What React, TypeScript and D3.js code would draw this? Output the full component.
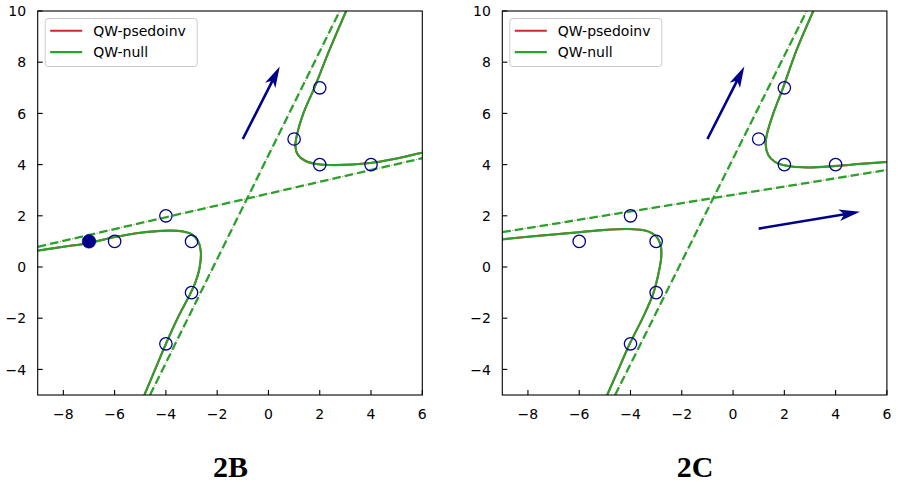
import React from "react";
import * as d3 from "d3";

type P = [number, number];

const xTicks = [-8, -6, -4, -2, 0, 2, 4, 6];
const yTicks = [-4, -2, 0, 2, 4, 6, 8, 10];
const xDomain: P = [-9, 6];
const yDomain: P = [-5, 10];

const legendLabels = ["QW-psedoinv", "QW-null"];
const titles = ["2B", "2C"];

// panel 2B
const openPointsB: P[] = [[-6, 1], [-4, 2], [-3, 1], [-3, -1], [-4, -3], [1, 5], [2, 7], [2, 4], [4, 4]];
const filledPointsB: P[] = [[-7, 1]];
const upperB: P[] = [[3.03, 10], [2.38, 8.48], [1.79, 7.0], [1.36, 6.0], [1.12, 5.2], [1.05, 4.7], [1.15, 4.38], [1.43, 4.15], [1.88, 4.02], [2.6, 3.98], [3.97, 4.06], [5.0, 4.24], [5.98, 4.46]];
const lowerB: P[] = [[-9, 0.64], [-8, 0.79], [-7, 0.94], [-6, 1.17], [-5, 1.34], [-4, 1.42], [-3.4, 1.4], [-3.0, 1.28], [-2.75, 1.02], [-2.64, 0.62], [-2.68, 0.0], [-2.85, -0.6], [-3.05, -1.05], [-3.52, -1.95], [-3.99, -2.98], [-4.42, -4.0], [-4.84, -5.0]];
const asymptotesB: P[][] = [[[-9, 0.79], [6, 4.25]], [[-4.62, -5], [2.78, 10]]];
const arrowsB: P[][] = [[[-1, 5], [0.44, 7.83]]];

// panel 2C
const openPointsC: P[] = [[-6, 1], [-4, 2], [-3, 1], [-3, -1], [-4, -3], [1, 5], [2, 7], [2, 4], [4, 4]];
const filledPointsC: P[] = [];
const upperC: P[] = [[3.13, 10], [2.48, 8.48], [1.95, 7.0], [1.57, 6.0], [1.33, 5.22], [1.27, 4.8], [1.37, 4.38], [1.63, 4.11], [2.02, 3.97], [2.87, 3.89], [4.01, 3.95], [5.0, 4.03], [5.99, 4.1]];
const lowerC: P[] = [[-9, 1.08], [-8, 1.18], [-7, 1.27], [-6, 1.36], [-5, 1.45], [-4, 1.48], [-3.4, 1.42], [-3.0, 1.2], [-2.82, 0.82], [-2.8, 0.4], [-2.88, -0.12], [-3.1, -1.0], [-3.5, -1.94], [-4.02, -2.98], [-4.47, -4.0], [-4.91, -5]];
const asymptotesC: P[][] = [[[-9, 1.36], [6, 3.79]], [[-4.6, -5], [2.87, 10]]];
const arrowsC: P[][] = [[[-1, 5], [0.44, 7.83]], [[1, 1.5], [4.95, 2.16]]];

const RED = "#d62728";
const GREEN = "#2ca02c";
const NAVY = "#00008b";
const FONT = "'DejaVu Sans', sans-serif";

const DASH = 8.6;
const GAP = 4.0;
const RDOT = 1.1;

interface PanelProps {
  left: number;
  id: string;
  title: string;
  curves: P[][];
  asymptotes: P[][];
  openPts: P[];
  filledPts: P[];
  arrows: P[][];
}

function arrowPath(p0: P, p1: P): string {
  const dx = p1[0] - p0[0];
  const dy = p1[1] - p0[1];
  const len = Math.hypot(dx, dy);
  const d = [dx / len, dy / len];
  const n = [-d[1], d[0]];
  const w = 1.3, L = 21, H = 5.8, o = 4;
  const b = [p1[0] - d[0] * (L - o), p1[1] - d[1] * (L - o)];
  const h = [p1[0] - d[0] * L, p1[1] - d[1] * L];
  const pts = [
    [p0[0] + n[0] * w, p0[1] + n[1] * w],
    [b[0] + n[0] * w, b[1] + n[1] * w],
    [h[0] + n[0] * H, h[1] + n[1] * H],
    [p1[0], p1[1]],
    [h[0] - n[0] * H, h[1] - n[1] * H],
    [b[0] - n[0] * w, b[1] - n[1] * w],
    [p0[0] - n[0] * w, p0[1] - n[1] * w],
  ];
  return "M" + pts.map((p) => p[0].toFixed(2) + "," + p[1].toFixed(2)).join("L") + "Z";
}

function Panel({ left, id, title, curves, asymptotes, openPts, filledPts, arrows }: PanelProps) {
  const top = 11;
  const size = 384.6;
  const bottom = top + 384;
  const x = d3.scaleLinear().domain(xDomain).range([left, left + size]);
  const y = d3.scaleLinear().domain(yDomain).range([bottom, top]);
  const smooth = d3
    .line<P>()
    .x((d) => x(d[0]))
    .y((d) => y(d[1]))
    .curve(d3.curveCatmullRom.alpha(0.5));
  const straight = d3
    .line<P>()
    .x((d) => x(d[0]))
    .y((d) => y(d[1]));
  const clip = "clip-" + id;
  const lx = left + 7.5;
  const ly = top + 7.5;
  return (
    <g>
      <defs>
        <clipPath id={clip}>
          <rect x={left} y={top} width={size} height={bottom - top} />
        </clipPath>
      </defs>
      <g clipPath={`url(#${clip})`}>
        {asymptotes.map((a, i) => (
          <g key={"a" + i}>
            <path
              d={straight(a) || ""}
              fill="none"
              stroke={RED}
              strokeOpacity={0.7}
              strokeWidth={1.0}
              strokeDasharray={`${RDOT} ${DASH + GAP - RDOT}`}
              strokeDashoffset={-(DASH + (GAP - RDOT) / 2)}
            />
            <path d={straight(a) || ""} fill="none" stroke={GREEN} strokeWidth={2.3} strokeDasharray={`${DASH} ${GAP}`} />
          </g>
        ))}
        {curves.map((c, i) => (
          <path key={"r" + i} d={smooth(c) || ""} fill="none" stroke={RED} strokeWidth={2} />
        ))}
        {curves.map((c, i) => (
          <path key={"g" + i} d={smooth(c) || ""} fill="none" stroke={GREEN} strokeWidth={2.1} />
        ))}
        {openPts.map((p, i) => (
          <circle key={"o" + i} cx={x(p[0])} cy={y(p[1])} r={6.2} fill="none" stroke={NAVY} strokeWidth={1.3} />
        ))}
        {filledPts.map((p, i) => (
          <circle key={"f" + i} cx={x(p[0])} cy={y(p[1])} r={6.8} fill={NAVY} stroke={NAVY} strokeWidth={0.5} />
        ))}
        {arrows.map((a, i) => (
          <path key={"ar" + i} d={arrowPath([x(a[0][0]), y(a[0][1])], [x(a[1][0]), y(a[1][1])])} fill={NAVY} />
        ))}
      </g>
      <rect x={left} y={top} width={size} height={bottom - top} fill="none" stroke="#000" strokeWidth={1.1} />
      {xTicks.map((t) => (
        <g key={"xt" + t}>
          <line x1={x(t)} x2={x(t)} y1={bottom} y2={bottom - 5} stroke="#000" strokeWidth={1.1} />
          <text x={x(t)} y={418.5} textAnchor="middle" fontFamily={FONT} fontSize={14} fill="#000">
            {t < 0 ? "\u2212" + Math.abs(t) : String(t)}
          </text>
        </g>
      ))}
      {yTicks.map((t) => (
        <g key={"yt" + t}>
          <line x1={left} x2={left + 5} y1={y(t)} y2={y(t)} stroke="#000" strokeWidth={1.1} />
          <text x={left - 11.5} y={y(t) + 5.1} textAnchor="end" fontFamily={FONT} fontSize={14} fill="#000">
            {t < 0 ? "\u2212" + Math.abs(t) : String(t)}
          </text>
        </g>
      ))}
      <rect x={lx} y={ly} width={152} height={48} rx={3} ry={3} fill="#fff" fillOpacity={0.8} stroke="#cccccc" strokeWidth={1} />
      {legendLabels.map((lab, i) => (
        <g key={"lg" + i}>
          <line x1={lx + 5} x2={lx + 37} y1={ly + 12.3 + i * 21.3} y2={ly + 12.3 + i * 21.3} stroke={i === 0 ? RED : GREEN} strokeWidth={2.1} />
          <text x={lx + 48} y={ly + 17.4 + i * 21.3} fontFamily={FONT} fontSize={14} fill="#000">
            {lab}
          </text>
        </g>
      ))}
      <text x={left + size / 2 + 0.5} y={476.5} textAnchor="middle" fontFamily="'Liberation Serif', serif" fontWeight="bold" fontSize={30} fill="#000">
        {title}
      </text>
    </g>
  );
}

export default function App() {
  return (
    <svg width={898} height={482} style={{ position: "fixed", left: 0, top: 0, background: "#fff" }}>
      <rect x={0} y={0} width={898} height={482} fill="#fff" />
      <Panel left={37.7} id="b" title={titles[0]} curves={[upperB, lowerB]} asymptotes={asymptotesB} openPts={openPointsB} filledPts={filledPointsB} arrows={arrowsB} />
      <Panel left={502.3} id="c" title={titles[1]} curves={[upperC, lowerC]} asymptotes={asymptotesC} openPts={openPointsC} filledPts={filledPointsC} arrows={arrowsC} />
    </svg>
  );
}
